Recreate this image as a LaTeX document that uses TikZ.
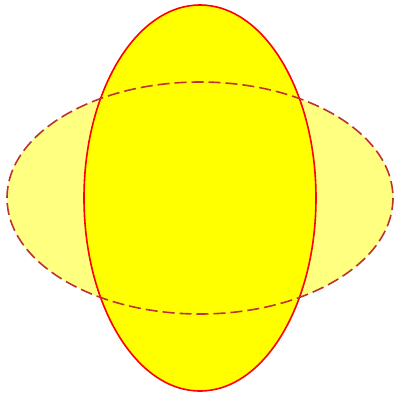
\documentclass[tikz,border=0pt]{standalone}
\definecolor{dashred}{RGB}{190,50,50}
\definecolor{pureyellow}{RGB}{255,255,0}
\definecolor{paleyellow}{RGB}{255,255,128}
\definecolor{purered}{RGB}{255,0,0}
\tikzset{
  wide/.style={fill=paleyellow},
  tall/.style={fill=pureyellow,draw=purered,line width=1.6pt},
  wideedge/.style={draw=dashred,line width=1.6pt,dash pattern=on 12pt off 5pt}
}
\begin{document}
\begin{tikzpicture}[x=1pt,y=-1pt]
\useasboundingbox (0,0) rectangle (400,400);
\coordinate (c) at (200,198);
\path[wide] (c) ellipse [x radius=193, y radius=116];
\path[tall] (c) ellipse [x radius=116, y radius=193];
\path[wideedge] (c) ellipse [x radius=193, y radius=116];
\end{tikzpicture}
\end{document}
